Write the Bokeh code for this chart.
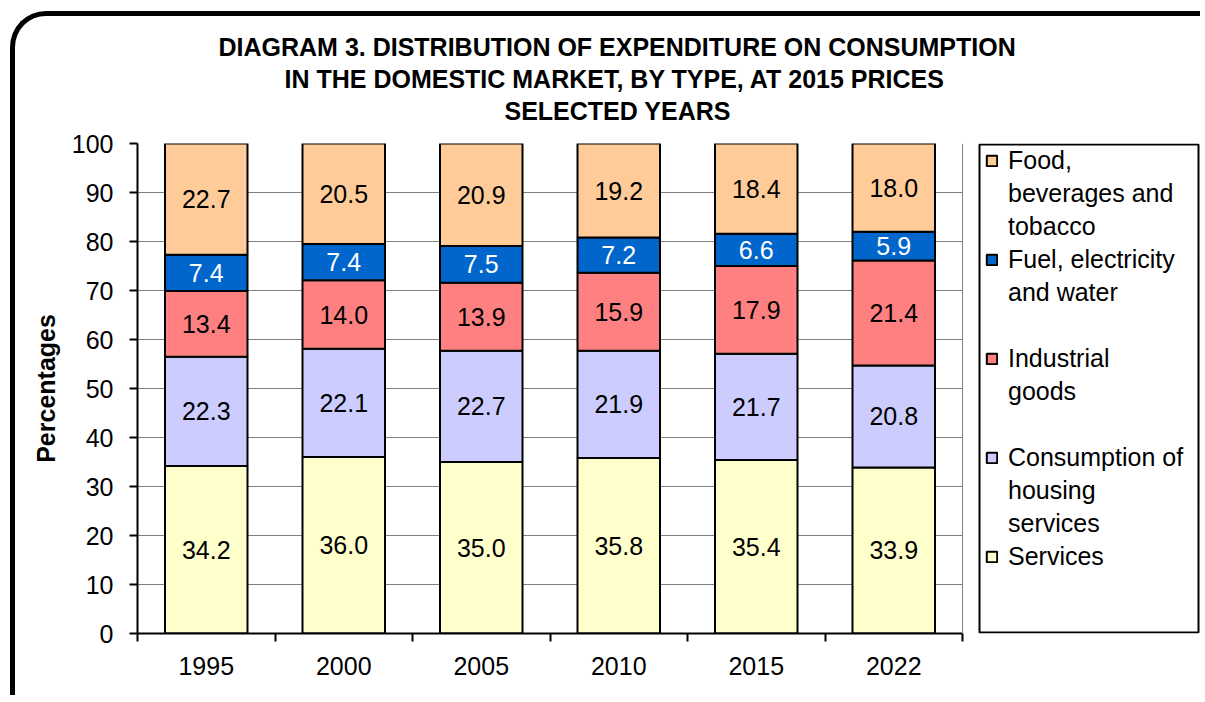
from bokeh.plotting import figure
from bokeh.models import (ColumnDataSource, FixedTicker, Legend, LegendItem, Title,
                          Range1d, BoxAnnotation, Span)
from bokeh.core.properties import value
from bokeh.embed import file_html
from bokeh.resources import INLINE

# ---- data ----
years = ["1995", "2000", "2005", "2010", "2015", "2022"]
services = [34.2, 36.0, 35.0, 35.8, 35.4, 33.9]
housing = [22.3, 22.1, 22.7, 21.9, 21.7, 20.8]
industrial = [13.4, 14.0, 13.9, 15.9, 17.9, 21.4]
fuel = [7.4, 7.4, 7.5, 7.2, 6.6, 5.9]
food = [22.7, 20.5, 20.9, 19.2, 18.4, 18.0]

series_keys = ["services", "housing", "industrial", "fuel", "food"]
series_values = [services, housing, industrial, fuel, food]
# legend text of each series, one entry per printed line
series_names = [
    ["Services"],
    ["Consumption of", "housing", "services"],
    ["Industrial", "goods"],
    ["Fuel, electricity", "and water"],
    ["Food,", "beverages and", "tobacco"],
]
colors = ["#FFFFCC", "#CCCCFF", "#FF8080", "#0066CC", "#FFCC99"]
label_colors = ["black", "black", "black", "white", "black"]
y_ticks = [0, 10, 20, 30, 40, 50, 60, 70, 80, 90, 100]
title_lines = [
    "DIAGRAM 3. DISTRIBUTION OF EXPENDITURE ON CONSUMPTION",
    "IN THE DOMESTIC MARKET, BY TYPE, AT 2015 PRICES",
    "SELECTED YEARS",
]
y_label = "Percentages"

# ---- style constants ----
FONT = "Liberation Sans"
title_offsets = [81, 147, 367]      # horizontal placement of each title line
n = len(years)
X_END = n * 1064 / 825               # frame extends right to hold the legend box
LEG_BOX = (n + 17 / 137.5, n + 236 / 137.5)
legend_gap_before = [False, False, True, True, False]   # blank line before group (top-down)

xs = [i + 0.5 for i in range(n)]
data = dict(x=xs)
for k, v in zip(series_keys, series_values):
    data[k] = v
source = ColumnDataSource(data)

p = figure(width=1190, height=684, output_backend="svg", toolbar_location=None,
           x_range=Range1d(0, X_END), y_range=Range1d(0, 100),
           min_border_left=122, min_border_right=4, min_border_top=127,
           min_border_bottom=67)
p.title.visible = False
p.border_fill_color = None
p.background_fill_color = "white"
p.outline_line_color = None
p.styles = {"margin-left": "10px", "margin-top": "11px",
            "border-left": "5px solid black", "border-top": "5px solid black",
            "border-top-left-radius": "36px"}

renderers = p.vbar_stack(series_keys, x="x", width=0.6, source=source,
                         fill_color=colors, line_color="black", line_width=2)

# value labels
cum = [0.0] * n
for vals, col in zip(series_values, label_colors):
    mids = [c + v / 2 for c, v in zip(cum, vals)]
    cum = [c + v for c, v in zip(cum, vals)]
    p.text(x=xs, y=mids, text=[f"{v:.1f}" for v in vals],
           text_font=value(FONT), text_font_size="25px", text_color=col,
           text_align="center", text_baseline="middle")

# axes
p.yaxis.ticker = FixedTicker(ticks=y_ticks, minor_ticks=[])
p.yaxis.axis_label = y_label
p.yaxis.axis_label_text_font = FONT
p.yaxis.axis_label_text_font_style = "bold"
p.yaxis.axis_label_text_font_size = "25px"
p.yaxis.axis_label_text_color = "black"
p.yaxis.axis_label_standoff = 9
p.yaxis.major_label_text_font = FONT
p.yaxis.major_label_text_font_size = "25px"
p.yaxis.major_label_text_color = "black"
p.yaxis.major_label_standoff = 16
p.yaxis.major_tick_out = 8
p.yaxis.major_tick_in = 0
p.yaxis.major_tick_line_width = 2
p.yaxis.major_tick_line_color = "black"
p.yaxis.minor_tick_out = 0
p.yaxis.minor_tick_in = 0
p.yaxis.axis_line_width = 2
p.yaxis.axis_line_color = "black"

p.xaxis.ticker = FixedTicker(ticks=xs, minor_ticks=list(range(n + 1)))
p.xaxis.bounds = (0, n)
p.xaxis.major_label_overrides = {x: y for x, y in zip(xs, years)}
p.xaxis.major_label_text_font = FONT
p.xaxis.major_label_text_font_size = "25px"
p.xaxis.major_label_text_color = "black"
p.xaxis.major_label_standoff = 15
p.xaxis.major_tick_out = 0
p.xaxis.major_tick_in = 0
p.xaxis.minor_tick_out = 8
p.xaxis.minor_tick_in = 0
p.xaxis.minor_tick_line_width = 2
p.xaxis.minor_tick_line_color = "black"
p.xaxis.axis_line_width = 2
p.xaxis.axis_line_color = "black"

p.xgrid.visible = False
p.ygrid.grid_line_color = "#808080"
p.ygrid.grid_line_width = 1

# white cover right of the plot area, gray plot-area edge, legend box
p.add_layout(BoxAnnotation(left=n, right=X_END, bottom=0, top=100,
                           fill_color="white", fill_alpha=1, line_alpha=0))
p.add_layout(Span(location=n, dimension="height", line_color="#808080", line_width=1))
p.add_layout(BoxAnnotation(left=LEG_BOX[0], right=LEG_BOX[1], bottom=0.2, top=99.8,
                           fill_color="white", fill_alpha=1,
                           line_color="black", line_width=2, line_alpha=1))

# legend (one item per printed line so the swatch sits on the first line)
blank = p.vbar(x=[], top=[], width=0.6, fill_alpha=0, line_alpha=0)
items = []
for lines, r, gap in zip(reversed(series_names), reversed(renderers), legend_gap_before):
    if gap:
        items.append(LegendItem(label=" ", renderers=[blank]))
    items.append(LegendItem(label=lines[0], renderers=[r]))
    for extra in lines[1:]:
        items.append(LegendItem(label=extra, renderers=[blank]))
legend = Legend(items=items, location=(842, 56), padding=6, spacing=3,
                margin=0, glyph_width=13, glyph_height=13, label_standoff=10,
                label_height=30, label_text_font=FONT, label_text_font_size="25px",
                label_text_line_height=1.2, label_text_color="black",
                border_line_alpha=0, background_fill_alpha=0)
p.add_layout(legend)

# title: a thin spacer next to the plot, then the three lines (nearest first)
p.add_layout(Title(text=" ", text_font_size="1px", standoff=15), "above")
for line, off in reversed(list(zip(title_lines, title_offsets))):
    p.add_layout(Title(text=line, align="left", offset=off, standoff=2,
                       text_font=FONT, text_font_style="bold",
                       text_font_size="25px", text_color="black"), "above")

open("out.html", "w").write(file_html(p, INLINE))
